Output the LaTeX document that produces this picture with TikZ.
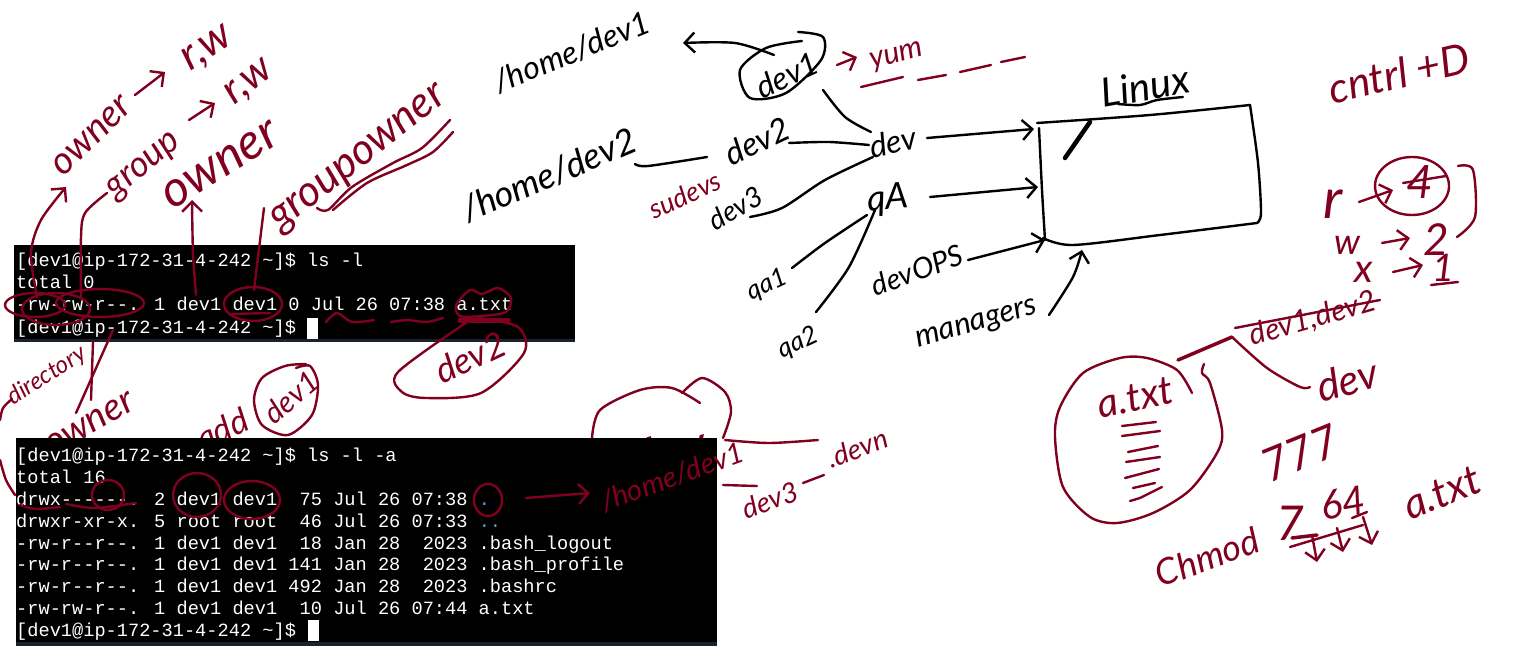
\documentclass[tikz,border=0pt]{standalone}
\usepackage{fontspec}
\usetikzlibrary{arrows.meta}
\newfontfamily\termfont{Liberation Mono}
\newfontfamily\handfont{Lato}
\definecolor{inkred}{HTML}{800020}
\definecolor{termblue}{HTML}{5B9BD5}
\definecolor{termstrip}{HTML}{1A2230}
\tikzset{
  termtxt/.style={anchor=base west,inner sep=0pt,text=white,font=\termfont\fontsize{18.65}{22}\selectfont},
  red/.style={draw=inkred,line width=2.4pt,line cap=round,line join=round},
  blk/.style={draw=black,line width=2.4pt,line cap=round,line join=round},
  barb/.style={-{Straight Barb[length=10pt,width=20pt]}},
  rtxt/.style={inner sep=0pt,text=inkred,font=\handfont\itshape\fontsize{#1}{#1}\selectfont},
  btxt/.style={inner sep=0pt,text=black,font=\handfont\itshape\fontsize{#1}{#1}\selectfont}
}
\begin{document}
\begin{tikzpicture}[x=1pt,y=-1pt]
  \useasboundingbox (0,0) rectangle (1539,660);
  % ink that the second terminal covers
  \node[rtxt=38,rotate=30] (ownerlow) at (90,424) {owner};
  \node[rtxt=34,rotate=25] (addlow) at (222,429) {add};
  \node[rtxt=52,rotate=15] (devcut) at (668,452) {dev};
  \draw[red] plot[smooth] coordinates {(12,399) (3,408) (0,420)};
  \draw[red] plot[smooth] coordinates {(592,438) (600,410) (640,390) (672,388) (700,403)};
  \draw[red] plot[smooth] coordinates {(682,393) (702,378) (725,392) (731,412) (723,438)};
  % first terminal
  \fill[black] (14,245) rectangle (575,339);
  \fill[termstrip] (14,339) rectangle (575,342);
  \node[termtxt] (toprow) at (16,267) {[dev1@ip-172-31-4-242 \textasciitilde]\$ ls -l};
  \node[termtxt] (toptotal) at (16,289) {total 0};
  \node[termtxt] (topfile) at (16,311) {-rw-rw-r--. 1 dev1 dev1 0 Jul 26 07:38 a.txt};
  \node[termtxt] (topprompt) at (16,333) {[dev1@ip-172-31-4-242 \textasciitilde]\$};
  \fill[white] (307,318) rectangle (318,339);
  % second terminal
  \fill[black] (16,438) rectangle (717,642);
  \fill[termstrip] (16,642) rectangle (717,646);
  \node[termtxt] (lowrow) at (16,461) {[dev1@ip-172-31-4-242 \textasciitilde]\$ ls -l -a};
  \node[termtxt] (lowtotal) at (16,483) {total 16};
  \node[termtxt] (lowa) at (16,505) {drwx------. 2 dev1 dev1~~75 Jul 26 07:38 \textcolor{termblue}{.}};
  \node[termtxt] (lowb) at (16,527) {drwxr-xr-x. 5 root root~~46 Jul 26 07:33 \textcolor{termblue}{..}};
  \node[termtxt] (lowc) at (16,549) {-rw-r--r--. 1 dev1 dev1~~18 Jan 28~~2023 .bash\_logout};
  \node[termtxt] (lowd) at (16,570) {-rw-r--r--. 1 dev1 dev1 141 Jan 28~~2023 .bash\_profile};
  \node[termtxt] (lowe) at (16,592) {-rw-r--r--. 1 dev1 dev1 492 Jan 28~~2023 .bashrc};
  \node[termtxt] (lowf) at (16,614) {-rw-rw-r--. 1 dev1 dev1~~10 Jul 26 07:44 a.txt};
  \node[termtxt] (lowprompt) at (16,636) {[dev1@ip-172-31-4-242 \textasciitilde]\$};
  \fill[white] (308,620) rectangle (319,641);
  % red notes on the left
  \node[rtxt=38,rotate=44] (ownera) at (92,136) {owner};
  \node[rtxt=44,rotate=33] (rwa) at (208,50) {r,w};
  \node[rtxt=36,rotate=40] (groupa) at (145,167) {group};
  \node[rtxt=42,rotate=38] (rwb) at (250,83) {r,w};
  \node[rtxt=50,rotate=32] (ownerb) at (221,165) {owner};
  \node[rtxt=43,rotate=38] (groupowner) at (360,160) {groupowner};
  \node[rtxt=24,rotate=33] (directory) at (47,376) {directory};
  \node[rtxt=30,rotate=40] (devcircled) at (291,397) {dev1};
  \node[rtxt=36,rotate=25] (devbig) at (470,357) {dev2};
  \draw[red,barb] (135,95) -- (165,72);
  \draw[red,barb] (189,120) -- (215,103);
  \draw[red,barb] plot[smooth] coordinates {(37,297) (31,253) (41,220) (66,187)};
  \draw[red] plot[smooth] coordinates {(81,297) (81,237) (85,213) (107,193)};
  \draw[red,barb] plot[smooth] coordinates {(196,295) (193,253) (192,200)};
  \draw[red] (254,290) -- (264,208);
  \draw[red] plot[smooth] coordinates {(317,208) (328,210) (352,187) (393,163) (422,148) (450,120)};
  \draw[red] plot[smooth] coordinates {(333,210) (367,183) (407,165) (433,152) (453,132)};
  \draw[red] (35,305) ellipse [x radius=30,y radius=12];
  \draw[red] (56,309) ellipse [x radius=34,y radius=16];
  \draw[red] (100,303) ellipse [x radius=44,y radius=14];
  \draw[red] (253,304) ellipse [x radius=29,y radius=17];
  \draw[red] (232,314) -- (270,313);
  \draw[red] plot[smooth] coordinates {(326,322) (337,313) (352,322) (374,320)};
  \draw[red] plot[smooth] coordinates {(391,322) (407,320) (426,322) (443,318)};
  \draw[red] plot[smooth cycle] coordinates {(456,305) (470,290) (482,294) (498,288) (511,298) (506,312) (482,316) (460,316)};
  \draw[red,line width=5pt] (460,320) -- (508,320);
  \draw[red] plot[smooth] coordinates {(467,322) (398,372) (402,392) (426,398) (481,393) (524,353) (518,327) (478,318)};
  \draw[red] (113,330) -- (76,413);
  \draw[red] (93,342) -- (91,400);
  \draw[red] plot[smooth] coordinates {(296,368) (310,366) (318,385) (312,415) (288,435) (262,425) (254,400) (262,378) (285,366) (306,364)};
  % red marks on the second terminal
  \draw[red] (197,495) ellipse [x radius=24,y radius=22];
  \draw[red] (252,500) ellipse [x radius=28,y radius=19];
  \draw[red] (108,495) ellipse [x radius=16,y radius=15];
  \draw[red] (488,500) ellipse [x radius=14,y radius=16];
  \draw[red] plot[smooth] coordinates {(20,505) (36,509) (60,507)};
  \draw[red] plot[smooth] coordinates {(66,504) (95,508) (136,503)};
  \draw[red] plot[smooth] coordinates {(0,460) (6,480) (15,495)};
  \node[rtxt=29,rotate=20] (homelow) at (672,477) {/home/dev1};
  \draw[red,barb] (526,498) -- (590,493);
  \draw[red] plot[smooth] coordinates {(725,440) (769,443) (818,440)};
  \draw[red] (723,485) -- (757,486);
  \node[rtxt=28,rotate=20] (devthree) at (770,500) {dev3};
  \draw[red] (803,483) -- (824,475);
  \node[rtxt=28,rotate=20] (devn) at (857,448) {.devn};
  % groups and the linux box
  \node[btxt=32,rotate=22] (homeone) at (572,52) {/home/dev1};
  \node[btxt=36,rotate=23] (hometwo) at (549,175) {/home/dev2};
  \node[btxt=32,rotate=25] (devone) at (787,75) {dev1};
  \node[btxt=33,rotate=25] (devtwo) at (757,141) {dev2};
  \node[btxt=28,rotate=30] (devthr) at (735,208) {dev3};
  \node[btxt=32,rotate=12] (dev) at (893,142) {dev};
  \node[btxt=36,rotate=5] (qa) at (888,200) {qA};
  \node[btxt=26,rotate=25] (qaone) at (767,285) {qa1};
  \node[btxt=26,rotate=25] (qatwo) at (798,343) {qa2};
  \node[btxt=29,rotate=20] (devops) at (917,270) {devOPS};
  \node[btxt=31,rotate=16] (managers) at (977,325) {managers};
  \node[btxt=40,rotate=10] (linux) at (1145,86) {Linux};
  \node[rtxt=27,rotate=25] (sudevs) at (685,195) {sudevs};
  \node[rtxt=30,rotate=15] (yum) at (897,57) {yum};
  \coordinate (boxa) at (1034,129);
  \coordinate (boxb) at (1038,187);
  \coordinate (boxc) at (1045,240);
  \draw[blk] plot[smooth] coordinates {(1037,123) (1150,115) (1250,105)};
  \draw[blk] plot[smooth] coordinates {(1039,128) (1042,190) (1045,240)};
  \draw[blk] plot[smooth] coordinates {(1250,105) (1258,163) (1261,213) (1257,223)};
  \draw[blk] plot[smooth] coordinates {(1257,223) (1160,235) (1073,245) (1043,238)};
  \draw[blk,line width=4.5pt] (1065,158) -- (1090,122);
  \draw[blk] plot[smooth] coordinates {(1118,104) (1140,105) (1157,100) (1183,97)};
  \draw[blk] plot[smooth] coordinates {(802,41) (766,48) (740,70) (750,98) (786,93) (821,60) (823,37) (798,32)};
  \draw[blk,barb] plot[smooth] coordinates {(774,55) (735,43) (683,43)};
  \draw[blk] plot[smooth] coordinates {(823,90) (845,117) (871,132)};
  \draw[blk] plot[smooth] coordinates {(789,143) (829,142) (869,145)};
  \draw[blk] plot[smooth] coordinates {(635,164) (648,166) (707,157)};
  \draw[blk] plot[smooth] coordinates {(750,217) (782,208) (825,180) (873,157)};
  \draw[blk] plot[smooth] coordinates {(792,268) (825,243) (867,215)};
  \draw[blk] plot[smooth] coordinates {(816,312) (849,267) (875,210)};
  \draw[blk,barb] (927,138) -- (boxa);
  \draw[blk,barb] (930,197) -- (boxb);
  \draw[blk,barb] (968,260) -- (boxc);
  \draw[blk,barb] plot[smooth] coordinates {(1049,315) (1073,277) (1082,250)};
  \draw[red,barb] (837,65) -- (857,57);
  \draw[red] (861,87) -- (903,77);
  \draw[red] (918,80) -- (946,75);
  \draw[red] (960,72) -- (991,65);
  \draw[red] (1001,62) -- (1025,57);
  % red notes on the right
  \node[rtxt=42,rotate=13] (ctrl) at (1399,73) {cntrl +D};
  \node[rtxt=56] (permr) at (1333,204) {r};
  \node[rtxt=46] (permfour) at (1420,182) {4};
  \node[rtxt=36] (permw) at (1347,245) {w};
  \node[rtxt=44] (permtwo) at (1436,240) {2};
  \node[rtxt=40] (permx) at (1364,272) {x};
  \node[rtxt=38] (permone) at (1444,268) {1};
  \draw[red] (1431,285) -- (1458,282);
  \draw[red,barb] (1359,202) -- (1393,190);
  \draw[red] (1412,186) ellipse [x radius=37,y radius=29];
  \draw[red] (1403,183) -- (1446,176);
  \draw[red] plot[smooth] coordinates {(1458,166) (1473,170) (1475,217) (1457,237)};
  \draw[red,barb] (1382,243) -- (1410,238);
  \draw[red,barb] (1393,272) -- (1423,265);
  \node[rtxt=30,rotate=16] (struck) at (1313,319) {dev1,dev2};
  \draw[red] (1235,328) -- (1380,300);
  \draw[red,line width=3.5pt] (1178,360) -- (1232,337);
  \draw[red] plot[smooth] coordinates {(1232,337) (1267,368) (1300,387) (1310,387)};
  \node[rtxt=42,rotate=15] (devred) at (1347,380) {dev};
  \draw[red] plot[smooth] coordinates {(1192,393) (1177,370) (1147,358) (1120,358) (1083,373) (1060,407) (1055,437) (1063,487) (1090,517) (1117,523) (1153,513) (1190,490) (1217,453) (1222,430) (1210,383) (1202,373) (1204,364)};
  \node[rtxt=40,rotate=12] (atxt) at (1135,398) {a.txt};
  \draw[red] (1122,426) -- (1156,422);
  \draw[red] (1122,436) -- (1160,431);
  \draw[red] (1128,452) -- (1158,446);
  \draw[red] (1126,462) -- (1160,457);
  \draw[red] (1125,478) -- (1159,469);
  \draw[red] (1133,488) -- (1155,483);
  \draw[red] (1130,501) -- (1140,498) -- (1162,487);
  \node[rtxt=46,rotate=22] (seven) at (1300,453) {777};
  \node[rtxt=36,rotate=20] (chmod) at (1207,557) {Chmod};
  \node[rtxt=48] (numa) at (1290,523) {7};
  \node[rtxt=40,rotate=10] (numb) at (1343,503) {64};
  \node[rtxt=42,rotate=22] (atxtb) at (1442,493) {a.txt};
  \draw[red] (1290,547) -- (1363,525);
  \draw[red,line width=3.5pt] (1292,538) -- (1317,535);
  \draw[red] (1352,518) -- (1367,512);
  \draw[red,barb] (1312,535) -- (1317,562);
  \draw[red,barb] (1337,528) -- (1343,552);
  \draw[red,barb] (1363,517) -- (1372,545);
\end{tikzpicture}
\end{document}
